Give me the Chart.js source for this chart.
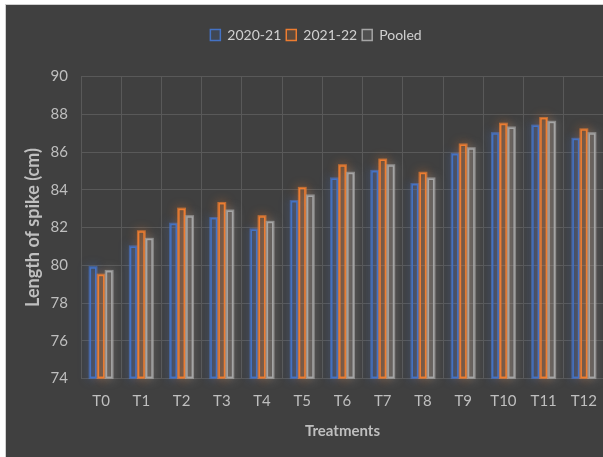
<!DOCTYPE html>
<html>
<head>
<meta charset="utf-8">
<script src="https://cdn.jsdelivr.net/npm/chart.js@4.4.1/dist/chart.umd.min.js"></script>
<style>
  html, body { margin: 0; padding: 0; background: #ffffff; overflow: hidden; width: 603px; height: 457px; }
  #box { position: absolute; left: 5px; top: 4px; width: 616px; height: 453px; background: #404040; border-left: 1px solid #d0d0d0; border-top: 1px solid #d0d0d0; }
  canvas { display: block; }
</style>
</head>
<body>
<div id="box"><canvas id="myChart" width="615" height="452"></canvas></div>
<script>
// values
const treatments = ["T0", "T1", "T2", "T3", "T4", "T5", "T6", "T7", "T8", "T9", "T10", "T11", "T12"];
const season2021 = [79.9, 81.0, 82.2, 82.5, 81.9, 83.4, 84.6, 85.0, 84.3, 85.9, 87.0, 87.4, 86.7];
const season2122 = [79.5, 81.8, 83.0, 83.3, 82.6, 84.1, 85.3, 85.6, 84.9, 86.4, 87.5, 87.8, 87.2];
const pooled     = [79.7, 81.4, 82.6, 82.9, 82.3, 83.7, 84.9, 85.3, 84.6, 86.2, 87.3, 87.6, 87.0];

const yMin = 74;
const yMax = 90;
const yStep = 2;

const textGray = "#bfbfbf";
const gridGray = "#595959";

function bars(label, data, color, fill) {
    return {
        label: label,
        data: data,
        base: yMin,
        borderColor: color,
        backgroundColor: fill,
        borderWidth: 1.5,
        borderSkipped: false,
        categoryPercentage: 0.6,
        barPercentage: 0.85
    };
}

// soft glow round each bar (the bar element clips its own border, so draw the glow under it)
const glow = {
    id: "glow",
    beforeDatasetsDraw(chart) {
        const ctx = chart.ctx;
        chart.data.datasets.forEach((ds, i) => {
            const meta = chart.getDatasetMeta(i);
            ctx.save();
            ctx.shadowColor = ds.borderColor;
            ctx.shadowBlur = 10;
            ctx.strokeStyle = ds.borderColor;
            ctx.globalAlpha = 0.7;
            ctx.lineWidth = 2;
            meta.data.forEach(bar => {
                const p = bar.getProps(["x", "y", "base", "width"], true);
                ctx.strokeRect(p.x - p.width / 2, p.y, p.width, p.base - p.y);
            });
            ctx.restore();
        });
    }
};

// extra room under the legend, and nudge it right like the original
const legendGap = {
    id: "legendGap",
    afterInit(chart) {
        if (!chart.legend) return;
        const fit = chart.legend.fit;
        chart.legend.fit = function () {
            fit.bind(chart.legend)();
            this.height += 24.5;
        };
    },
    afterLayout(chart) {
        if (!chart.legend) return;
        chart.legend.left += 11;
        chart.legend.right += 11;
    }
};

Chart.defaults.font.family = "Lato, 'Open Sans', sans-serif";

const ctx = document.getElementById("myChart").getContext("2d");
const chart = new Chart(ctx, {
    type: "bar",
    data: {
        labels: treatments,
        datasets: [
            bars("2020-21", season2021, "#4472C4", "rgba(68, 114, 196, 0.15)"),
            bars("2021-22", season2122, "#ED7D31", "rgba(237, 125, 49, 0.15)"),
            bars("Pooled", pooled, "#A5A5A5", "rgba(165, 165, 165, 0.15)")
        ]
    },
    plugins: [glow, legendGap],
    options: {
        responsive: false,
        animation: false,
        layout: { padding: { left: 0, right: 17, top: 18, bottom: 0 } },
        plugins: {
            tooltip: { enabled: false },
            legend: {
                position: "top",
                labels: {
                    color: "#d0d0d0",
                    font: { size: 14 },
                    boxWidth: 10,
                    boxHeight: 11,
                    padding: 5
                }
            }
        },
        scales: {
            x: {
                grid: { color: gridGray, lineWidth: 1, drawTicks: false },
                border: { color: gridGray },
                ticks: { color: textGray, font: { size: 15 }, padding: 14 },
                title: {
                    display: true,
                    text: "Treatments",
                    color: textGray,
                    font: { size: 15, weight: "bold" },
                    padding: { top: 0, bottom: 17 }
                },
                afterFit: scale => { scale.height = 78.5; }
            },
            y: {
                min: yMin,
                max: yMax,
                grid: { color: gridGray, lineWidth: 1, drawTicks: false },
                border: { color: gridGray },
                ticks: { stepSize: yStep, color: textGray, font: { size: 15 }, padding: 13 },
                title: {
                    display: true,
                    text: "Length of spike (cm)",
                    color: textGray,
                    font: { size: 18, weight: "bold" },
                    padding: { top: 16.2, bottom: 0 }
                },
                afterFit: scale => { scale.width = 75; }
            }
        }
    }
});
</script>
</body>
</html>
